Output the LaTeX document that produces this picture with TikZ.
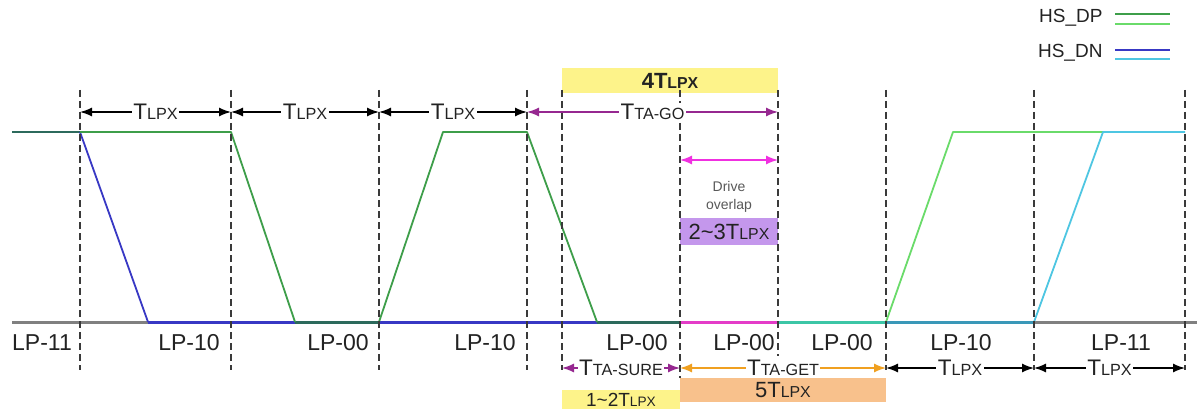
\documentclass[tikz,border=0pt]{standalone}
\usepackage{fontspec}
\setmainfont{Liberation Sans}
\usepackage{graphicx}
\usetikzlibrary{arrows.meta}
\definecolor{txt}{HTML}{222222}
\definecolor{gridc}{HTML}{3A3A3A}
\definecolor{dpg}{HTML}{3E9E4A}
\definecolor{dpl}{HTML}{6ADB6A}
\definecolor{dnb}{HTML}{3838C4}
\definecolor{dnc}{HTML}{4EC6E2}
\definecolor{both}{HTML}{2C6A5C}
\definecolor{axisc}{HTML}{808080}
\definecolor{mag}{HTML}{E43CC8}
\definecolor{tealc}{HTML}{3CC6A6}
\definecolor{hsdn}{HTML}{3A98B8}
\definecolor{purp}{HTML}{962890}
\definecolor{pinkc}{HTML}{F030E0}
\definecolor{orng}{HTML}{F0A020}
\definecolor{ylw}{HTML}{FDF38A}
\definecolor{lav}{HTML}{C497EC}
\definecolor{peach}{HTML}{F8C18C}
\newcommand\Tx[1]{T\scalebox{0.72}{#1}}
\begin{document}
\begin{tikzpicture}[x=1pt,y=-1pt,
  vdash/.style={draw=gridc, line width=1.4pt, dash pattern=on 7pt off 4pt},
  sig/.style={line width=1.8pt, line join=round},
  base/.style={line width=3pt},
  tarr/.style={line width=1.4pt, {Latex[length=12pt,width=9pt]}-{Latex[length=12pt,width=9pt]}},
  lbl/.style={fill=white, inner sep=1.5pt, text=txt, font=\fontsize{22.5}{24}\selectfont},
  lp/.style={text=txt, font=\fontsize{23}{25}\selectfont},
  box/.style={inner sep=0pt, text=txt, font=\fontsize{22}{24}\selectfont},
  leg/.style={anchor=east, text=txt, font=\fontsize{19}{21}\selectfont}]
\useasboundingbox (0,0) rectangle (1199,409);
\fill[white] (0,0) rectangle (1199,409);

% vertical positions
\foreach \n/\x in {v1/80,v2/231,v3/379,v4/527,v5/562,v6/680,v7/778,v8/886,v9/1034,v10/1185}{
  \coordinate (\n) at (\x,0);}
\coordinate (top) at (0,90);
\coordinate (bot) at (0,370);
\coordinate (rt) at (0,112);
\coordinate (rd) at (0,160);
\coordinate (rb) at (0,368);

% boxes
\node[box, fill=ylw, minimum width=216pt, minimum height=25pt, font=\fontsize{22}{24}\selectfont\bfseries] (b4) at (670,80.5) {4\Tx{LPX}};
\node[box, fill=lav, minimum width=98pt, minimum height=27pt] (b23) at (729,231.5) {2\textasciitilde3\Tx{LPX}};
\node[box, fill=peach, minimum width=206pt, minimum height=24pt] (b5) at (783,390) {5\Tx{LPX}};
\node[box, fill=ylw, minimum width=118pt, minimum height=20pt, font=\fontsize{19}{21}\selectfont] (b12) at (621,399.5) {1\textasciitilde2\Tx{LPX}};

% baseline
\draw[base, axisc] (12,322) -- (148,322);
\draw[base, dnb] (148,322) -- (295,322);
\draw[base, both] (295,322) -- (379,322);
\draw[base, dnb] (379,322) -- (597,322);
\draw[base, both] (597,322) -- (680,322);
\draw[base, mag] (680,322) -- (778,322);
\draw[base, tealc] (778,322) -- (886,322);
\draw[base, hsdn] (886,322) -- (1034,322);
\draw[base, axisc] (1034,322) -- (1197,322);

% signals
\draw[sig, both] (12,132) -- (80,132);
\draw[sig, dnb] (80,132) -- (148,322);
\draw[sig, dpg] (80,132) -- (231,132) -- (295,322);
\draw[sig, dpg] (379,322) -- (443,132) -- (527,132) -- (597,322);
\draw[sig, dpl] (886,322) -- (953,132) -- (1103,132);
\draw[sig, dnc] (1034,322) -- (1103,132) -- (1185,132);

% dashed verticals
\foreach \n in {v1,v2,v3,v4,v5,v8,v9,v10}{
  \draw[vdash] (\n|-top) -- (\n|-bot);}
\draw[vdash] (v6|-top) -- (v6|-b5.north);
\draw[vdash] (v7|-top) -- ([yshift=14pt]v7|-bot);

% top arrows
\draw[tarr, draw=black] (v1|-rt) -- node[lbl] (t1) {\Tx{LPX}} (v2|-rt);
\draw[tarr, draw=black] (v2|-rt) -- node[lbl] (t2) {\Tx{LPX}} (v3|-rt);
\draw[tarr, draw=black] (v3|-rt) -- node[lbl] (t3) {\Tx{LPX}} (v4|-rt);
\draw[tarr, draw=purp] (v4|-rt) -- node[lbl] (tgo) {\Tx{TA-GO}} (v7|-rt);
\draw[tarr, draw=pinkc] (v6|-rd) -- (v7|-rd);
\node[text=black!65, font=\fontsize{14}{18}\selectfont, align=center] (dov) at (729,197) {Drive\\overlap};

% bottom arrows
\draw[tarr, draw=purp] (v5|-rb) -- node[lbl] (tsure) {\Tx{TA-SURE}} (v6|-rb);
\draw[tarr, draw=orng] (v6|-rb) -- node[lbl] (tget) {\Tx{TA-GET}} (v8|-rb);
\draw[tarr, draw=black] (v8|-rb) -- node[lbl] (t4) {\Tx{LPX}} (v9|-rb);
\draw[tarr, draw=black] (v9|-rb) -- node[lbl] (t5) {\Tx{LPX}} (v10|-rb);

% state labels
\foreach \n/\x/\t in {s1/42/LP-11, s2/189/LP-10, s3/338/LP-00, s4/485/LP-10, s5/637/LP-00, s6/744/LP-00, s7/842/LP-00, s8/961/LP-10, s9/1121/LP-11}{
  \node[lp] (\n) at (\x,343) {\t};}

% legend
\node[leg] (ldp) at (1106,18) {HS\_DP};
\node[leg] (ldn) at (1106,53) {HS\_DN};
\draw[line width=2.5pt, dpg] (1115,14) -- (1170,14);
\draw[line width=2.5pt, dpl] (1115,24) -- (1170,24);
\draw[line width=2.5pt, dnb] (1115,50) -- (1170,50);
\draw[line width=2.5pt, dnc] (1115,59) -- (1170,59);
\end{tikzpicture}
\end{document}
